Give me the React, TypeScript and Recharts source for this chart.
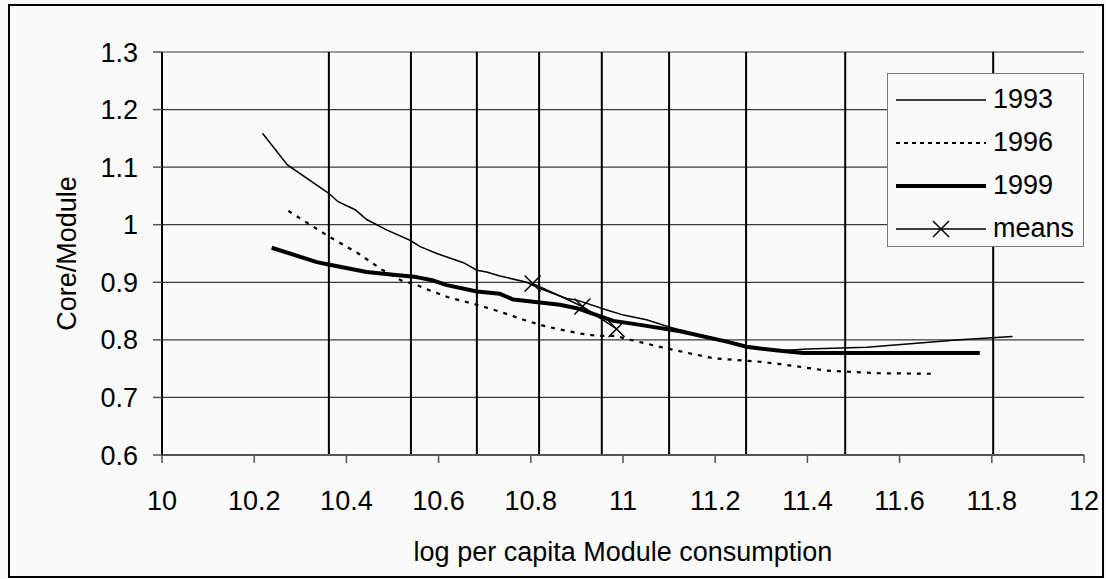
import React from "react";
import {
  CartesianGrid,
  Label,
  Line,
  LineChart,
  ReferenceLine,
  XAxis,
  YAxis,
} from "recharts";

const FONT = "Arial, 'Liberation Sans', Helvetica, sans-serif";

const xTicks = [10, 10.2, 10.4, 10.6, 10.8, 11, 11.2, 11.4, 11.6, 11.8, 12];
const yTicks = [0.6, 0.7, 0.8, 0.9, 1, 1.1, 1.2, 1.3];

// vertical cut lines (consumption deciles)
const decileCuts = [10.362, 10.54, 10.683, 10.818, 10.954, 11.1, 11.267, 11.482, 11.803];

const x1993 = [
  10.218, 10.272, 10.361, 10.382, 10.419, 10.444, 10.487, 10.538, 10.56, 10.596,
  10.654, 10.683, 10.704, 10.733, 10.791, 10.817, 10.878, 10.9, 10.965, 11.001,
  11.051, 11.102, 11.153, 11.225, 11.268, 11.341, 11.4, 11.529, 11.731, 11.845,
];
const y1993 = [
  1.159, 1.104, 1.055, 1.04, 1.026, 1.009, 0.991, 0.973, 0.962, 0.95,
  0.934, 0.921, 0.918, 0.911, 0.9, 0.89, 0.872, 0.869, 0.852, 0.843,
  0.835, 0.822, 0.811, 0.798, 0.789, 0.781, 0.784, 0.787, 0.8, 0.806,
];

const x1996 = [
  10.274, 10.361, 10.426, 10.477, 10.524, 10.545, 10.574, 10.621, 10.683, 10.733,
  10.784, 10.834, 10.907, 10.943, 10.986, 11.001, 11.095, 11.196, 11.297, 11.341,
  11.442, 11.557, 11.68,
];
const y1996 = [
  1.024, 0.98, 0.95, 0.922, 0.901, 0.898, 0.888, 0.874, 0.861, 0.849,
  0.835, 0.823, 0.811, 0.807, 0.807, 0.803, 0.785, 0.768, 0.762, 0.758,
  0.7465, 0.742, 0.741,
];

const x1999 = [
  10.238, 10.336, 10.361, 10.444, 10.502, 10.552, 10.589, 10.618, 10.683, 10.733,
  10.762, 10.82, 10.863, 10.9, 10.943, 10.979, 11.037, 11.124, 11.225, 11.268,
  11.297, 11.341, 11.391, 11.774,
];
const y1999 = [
  0.96, 0.935, 0.931, 0.918, 0.913, 0.909, 0.903, 0.895, 0.884, 0.88,
  0.87, 0.865, 0.861, 0.855, 0.843, 0.833, 0.826, 0.815, 0.797, 0.788,
  0.785, 0.781, 0.777, 0.777,
];

const xMeans = [10.804, 10.912, 10.986];
const yMeans = [0.898, 0.858, 0.819];

const toPoints = (xs: number[], ys: number[]) => xs.map((x, i) => ({ x, y: ys[i] }));

const data1993 = toPoints(x1993, y1993);
const data1996 = toPoints(x1996, y1996);
const data1999 = toPoints(x1999, y1999);
const dataMeans = toPoints(xMeans, yMeans);

const fmt = (v: number) => String(Math.round(v * 10) / 10);

const renderCross = (props: any) => {
  const { cx, cy, index } = props;
  if (cx == null || cy == null) return <g key={`m-${index}`} />;
  const r = 8;
  return (
    <path
      key={`m-${index}`}
      d={`M${cx - r},${cy - r}L${cx + r},${cy + r}M${cx + r},${cy - r}L${cx - r},${cy + r}`}
      stroke="#000"
      strokeWidth={1.5}
      fill="none"
    />
  );
};

const legendRows = [
  { name: "1993", width: 1.5, dash: undefined as string | undefined, cross: false },
  { name: "1996", width: 2, dash: "4 4", cross: false },
  { name: "1999", width: 4, dash: undefined, cross: false },
  { name: "means", width: 1.5, dash: undefined, cross: true },
];

function LegendBox() {
  return (
    <div
      style={{
        position: "absolute",
        left: 887,
        top: 73,
        width: 197,
        height: 174,
        boxSizing: "border-box",
        border: "1.5px solid #7a7a7a",
        background: "#fafafa",
        fontFamily: FONT,
      }}
    >
      {legendRows.map((row, i) => {
        const cy = 26 + i * 43;
        return (
          <div key={row.name}>
            <svg
              width={92}
              height={24}
              style={{ position: "absolute", left: 8, top: cy - 12 }}
            >
              <line
                x1={0}
                x2={90}
                y1={12}
                y2={12}
                stroke="#000"
                strokeWidth={row.width}
                strokeDasharray={row.dash}
              />
              {row.cross && (
                <path d="M37,4L53,20M53,4L37,20" stroke="#000" strokeWidth={1.5} />
              )}
            </svg>
            <span
              style={{
                position: "absolute",
                left: 105,
                top: cy - 17,
                fontSize: 27,
                lineHeight: "32px",
                color: "#000",
              }}
            >
              {row.name}
            </span>
          </div>
        );
      })}
    </div>
  );
}

export default function App() {
  return (
    <div
      style={{
        position: "absolute",
        left: 0,
        top: 0,
        width: 1106,
        height: 579,
        background: "#fafafa",
        fontFamily: FONT,
      }}
    >
      <LineChart
        width={1106}
        height={579}
        margin={{ top: 52, right: 22, bottom: 14, left: 62 }}
        style={{ fontFamily: FONT }}
      >
        <CartesianGrid vertical={false} stroke="#3a3a3a" strokeWidth={1.2} />
        <XAxis
          dataKey="x"
          type="number"
          domain={[10, 12]}
          ticks={xTicks}
          tickFormatter={fmt}
          allowDataOverflow
          height={110}
          tickSize={8}
          tickMargin={28}
          axisLine={{ stroke: "#555", strokeWidth: 2 }}
          tickLine={{ stroke: "#555", strokeWidth: 1.5 }}
          tick={{ fontSize: 27, fill: "#000", fontFamily: FONT }}
          interval={0}
        >
          <Label
            value="log per capita Module consumption"
            position="insideBottom"
            offset={4}
            style={{ fontSize: 27, fill: "#000", fontFamily: FONT }}
          />
        </XAxis>
        <YAxis
          dataKey="y"
          type="number"
          domain={[0.6, 1.3]}
          ticks={yTicks}
          tickFormatter={fmt}
          allowDataOverflow
          width={100}
          tickSize={9}
          tickMargin={15}
          interval={0}
          axisLine={{ stroke: "#000", strokeWidth: 2 }}
          tickLine={{ stroke: "#555", strokeWidth: 1.5 }}
          tick={{ fontSize: 27, fill: "#000", fontFamily: FONT }}
        >
          <Label
            value="Core/Module"
            angle={-90}
            position="insideLeft"
            offset={4}
            style={{ fontSize: 27, fill: "#000", fontFamily: FONT, textAnchor: "middle" }}
          />
        </YAxis>
        {decileCuts.map((v) => (
          <ReferenceLine key={v} x={v} stroke="#000" strokeWidth={2} ifOverflow="hidden" />
        ))}
        <Line
          data={data1993}
          dataKey="y"
          name="1993"
          type="linear"
          stroke="#000"
          strokeWidth={1.5}
          dot={false}
          isAnimationActive={false}
        />
        <Line
          data={data1996}
          dataKey="y"
          name="1996"
          type="linear"
          stroke="#000"
          strokeWidth={2.2}
          strokeDasharray="4 6"
          dot={false}
          isAnimationActive={false}
        />
        <Line
          data={data1999}
          dataKey="y"
          name="1999"
          type="linear"
          stroke="#000"
          strokeWidth={4}
          strokeLinejoin="round"
          dot={false}
          isAnimationActive={false}
        />
        <Line
          data={dataMeans}
          dataKey="y"
          name="means"
          type="linear"
          stroke="#000"
          strokeWidth={1.5}
          dot={renderCross}
          isAnimationActive={false}
        />
      </LineChart>
      <LegendBox />
      <div
        style={{
          position: "absolute",
          left: 8,
          top: 4,
          width: 1096,
          height: 574,
          boxSizing: "border-box",
          border: "2.5px solid #000",
          pointerEvents: "none",
        }}
      />
    </div>
  );
}
